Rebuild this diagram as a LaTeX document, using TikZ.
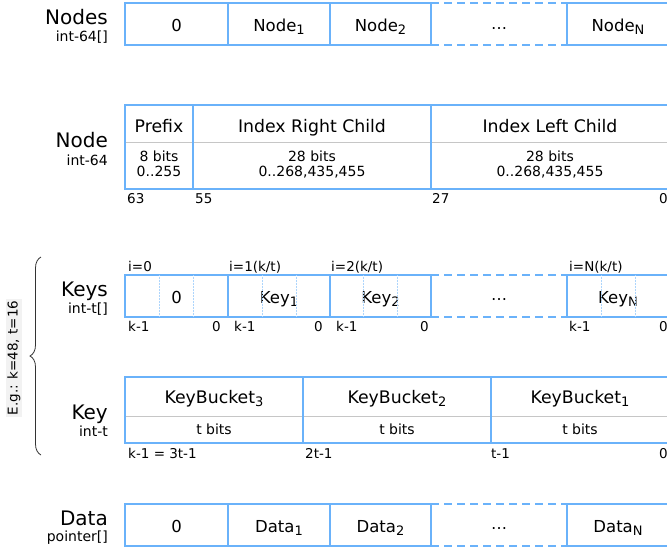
\documentclass[tikz,border=0pt]{standalone}
\usepackage{fontspec}
\setmainfont{DejaVu Sans}
\usetikzlibrary{calc,decorations.pathreplacing}
\definecolor{cellblue}{HTML}{6AB2FA}
\definecolor{rulegray}{HTML}{C6C6C6}
\definecolor{notegray}{HTML}{F2F2F2}
\newcommand{\lowidx}[1]{\raisebox{-3pt}{\fontsize{13}{13}\selectfont #1}}
\tikzset{
  cell/.style={draw=cellblue, line width=1.8pt, anchor=north west, outer sep=0pt,
    minimum height=42pt, inner sep=0pt, text height=15pt, text depth=0pt,
    font=\fontsize{16.5}{16.5}\selectfont},
  frame/.style={draw=cellblue, line width=1.8pt},
  gap/.style={draw=cellblue, line width=1.8pt, dash pattern=on 8pt off 5pt},
  rule/.style={draw=rulegray, line width=0.9pt},
  third/.style={draw=cellblue!55, line width=0.5pt, densely dotted},
  more/.style={anchor=base, inner sep=0pt, font=\fontsize{16}{16}\selectfont},
  title/.style={anchor=base east, inner sep=0pt, font=\fontsize{20}{20}\selectfont},
  kind/.style={anchor=base east, inner sep=0pt, font=\fontsize{14}{14}\selectfont},
  field/.style={anchor=base, inner sep=0pt, font=\fontsize{17.3}{17.3}\selectfont},
  bits/.style={anchor=base, inner sep=0pt, font=\fontsize{14}{14}\selectfont},
  bitpos/.style={anchor=base west, inner sep=0pt, font=\fontsize{13.5}{13.5}\selectfont},
  brace/.style={decorate, decoration={brace, amplitude=11pt}, line width=0.8pt, draw=black!80},
  note/.style={rotate=90, fill=notegray, inner sep=1.5pt, font=\fontsize{13.5}{13.5}\selectfont},
}
\begin{document}
\begin{tikzpicture}[x=1pt,y=-1pt]
\clip (0,0) rectangle (667,550);

% array of nodes
\node[title] (nodestitle) at (108,24) {Nodes};
\node[kind] (nodeskind) at (108,41) {int-64[]};
\node[cell, minimum width=103pt] (nodes0) at (125,3) {0};
\node[cell, minimum width=102pt] (nodes1) at (nodes0.north east) {Node\lowidx{1}};
\node[cell, minimum width=101pt] (nodes2) at (nodes1.north east) {Node\lowidx{2}};
\node[cell, minimum width=102pt] (nodesN) at (567,3) {Node\lowidx{N}};
\draw[gap] (nodes2.north east) -- (nodesN.north west) (nodes2.south east) -- (nodesN.south west);
\node[more] (nodesmore) at ($(nodes2.north east)!.5!(nodesN.north west)+(0,30)$) {⋯};

% one node word
\node[title] (nodetitle) at (108,147) {Node};
\node[kind] (nodekind) at (108,165) {int-64};
\draw[rule] (125,142) -- (669,142);
\draw[frame] (125,105) rectangle (669,189);
\draw[frame] (193,105) -- (193,189) (431,105) -- (431,189);
\node[field] (prefix) at (159,132) {Prefix};
\node[field] (right) at (312,132) {Index Right Child};
\node[field] (left) at (550,132) {Index Left Child};
\node[bits] (prefixbits) at (159,161) {8 bits};
\node[bits] (prefixrange) at (159,176.5) {0..255};
\node[bits] (rightbits) at (312,161) {28 bits};
\node[bits] (rightrange) at (312,176.5) {0..268,435,455};
\node[bits] (leftbits) at (550,161) {28 bits};
\node[bits] (leftrange) at (550,176.5) {0..268,435,455};
\node[bitpos] (b63) at (127,203) {63};
\node[bitpos] (b55) at (195,203) {55};
\node[bitpos] (b27) at (432,203) {27};
\node[bitpos, anchor=base east] (b0) at (668,203) {0};

% example sizes
\draw[brace] (41,455) -- (41,257);
\node[note] (example) at (14,358) {E.g.: k=48, t=16};

% array of keys
\node[title] (keystitle) at (108,296) {Keys};
\node[kind] (keyskind) at (108,313) {int-t[]};
\node[cell, minimum width=103pt] (keys0) at (125,275) {0};
\node[cell, minimum width=102pt] (keys1) at (keys0.north east) {Key\lowidx{1}};
\node[cell, minimum width=101pt] (keys2) at (keys1.north east) {Key\lowidx{2}};
\node[cell, minimum width=102pt] (keysN) at (567,275) {Key\lowidx{N}};
\draw[gap] (keys2.north east) -- (keysN.north west) (keys2.south east) -- (keysN.south west);
\node[more] (keysmore) at ($(keys2.north east)!.5!(keysN.north west)+(0,29)$) {⋯};
\foreach \c in {keys0,keys1,keys2,keysN}
  \draw[third] ($(\c.north west)!1/3!(\c.north east)$) -- ($(\c.south west)!1/3!(\c.south east)$)
               ($(\c.north west)!2/3!(\c.north east)$) -- ($(\c.south west)!2/3!(\c.south east)$);
\node[bitpos] (i0) at (128,271) {i=0};
\node[bitpos] (i1) at (229,271) {i=1(k/t)};
\node[bitpos] (i2) at (331,271) {i=2(k/t)};
\node[bitpos] (iN) at (569,271) {i=N(k/t)};
\node[bitpos] (hi0) at (128,331) {k-1};
\node[bitpos] (hi1) at (234,331) {k-1};
\node[bitpos] (hi2) at (336,331) {k-1};
\node[bitpos] (hiN) at (569,331) {k-1};
\node[bitpos, anchor=base east] (lo0) at (221,331) {0};
\node[bitpos, anchor=base east] (lo1) at (323,331) {0};
\node[bitpos, anchor=base east] (lo2) at (429,331) {0};
\node[bitpos, anchor=base east] (loN) at (668,331) {0};

% one key split in buckets
\node[title] (keytitle) at (108,419) {Key};
\node[kind] (keykind) at (108,436) {int-t};
\draw[rule] (125,416) -- (669,416);
\draw[frame] (125,377) rectangle (669,443);
\draw[frame] (303,377) -- (303,443) (491,377) -- (491,443);
\node[field] (bucket3) at (214,403) {KeyBucket\lowidx{3}};
\node[field] (bucket2) at (397,403) {KeyBucket\lowidx{2}};
\node[field] (bucket1) at (580,403) {KeyBucket\lowidx{1}};
\node[bits] (bucket3bits) at (214,434) {t bits};
\node[bits] (bucket2bits) at (397,434) {t bits};
\node[bits] (bucket1bits) at (580,434) {t bits};
\node[bitpos] (k3) at (128,458) {k-1 = 3t-1};
\node[bitpos] (k2) at (305,458) {2t-1};
\node[bitpos] (k1) at (491,458) {t-1};
\node[bitpos, anchor=base east] (k0) at (668,458) {0};

% array of data
\node[title] (datatitle) at (108,525) {Data};
\node[kind] (datakind) at (108,541) {pointer[]};
\node[cell, minimum width=103pt] (data0) at (125,504) {0};
\node[cell, minimum width=102pt] (data1) at (data0.north east) {Data\lowidx{1}};
\node[cell, minimum width=101pt] (data2) at (data1.north east) {Data\lowidx{2}};
\node[cell, minimum width=102pt] (dataN) at (567,504) {Data\lowidx{N}};
\draw[gap] (data2.north east) -- (dataN.north west) (data2.south east) -- (dataN.south west);
\node[more] (datamore) at ($(data2.north east)!.5!(dataN.north west)+(0,29)$) {⋯};
\end{tikzpicture}
\end{document}
